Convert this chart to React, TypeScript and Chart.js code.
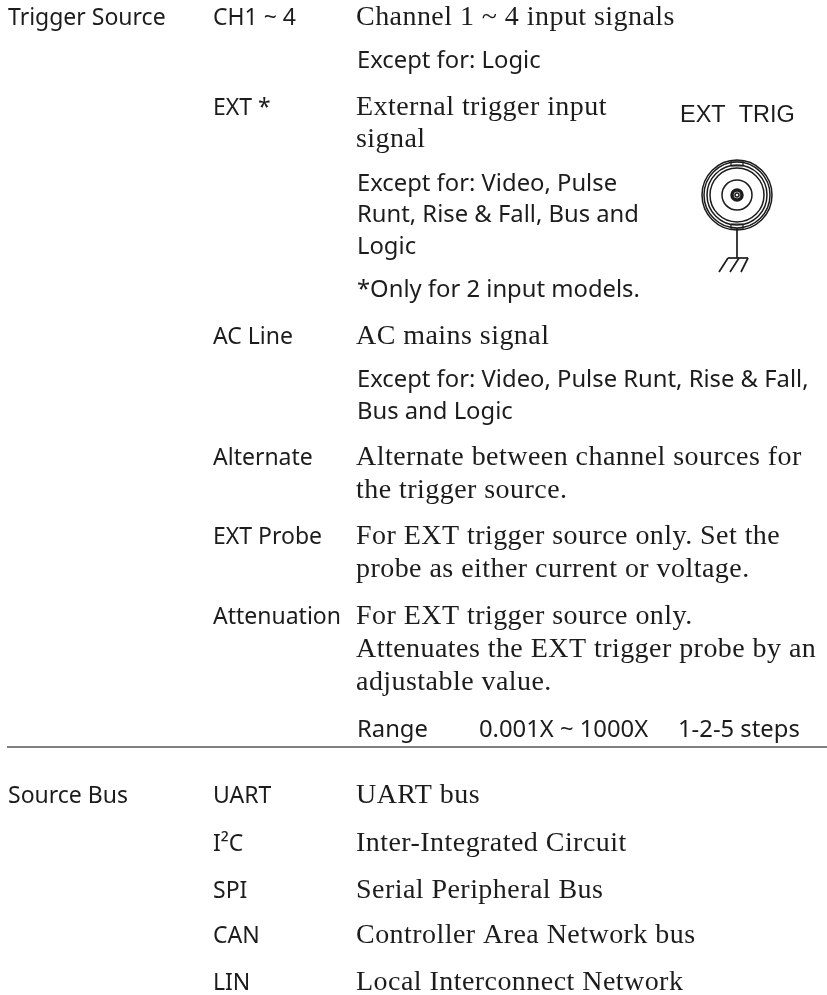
import React, { useEffect, useRef } from "react";
import { Chart, registerables } from "chart.js";

Chart.register(...registerables);

const PAGE_W = 827;
const PAGE_H = 995;

// [text, x on page scale, baseline on page scale]
const headings: [string, number, number][] = [
  ["Trigger Source", 8, 25],
  ["Source Bus", 8, 803],
];
const names: [string, number, number][] = [
  ["CH1 ~ 4", 213, 25],
  ["EXT *", 213, 115],
  ["AC Line", 213, 344],
  ["Alternate", 213, 465],
  ["EXT Probe", 213, 544],
  ["Attenuation", 213, 624],
  ["UART", 213, 803],
  ["I²C", 213, 851],
  ["SPI", 213, 898],
  ["CAN", 213, 943],
  ["LIN", 213, 990],
];
const notes: [string, number, number][] = [
  ["Except for: Logic", 357, 68],
  ["Except for: Video, Pulse", 357, 191],
  ["Runt, Rise & Fall, Bus and", 357, 222],
  ["Logic", 357, 254],
  ["*Only for 2 input models.", 357, 297],
  ["Except for: Video, Pulse Runt, Rise & Fall,", 357, 387],
  ["Bus and Logic", 357, 419],
  ["Range", 357, 737],
  ["0.001X ~ 1000X", 479, 737],
  ["1-2-5 steps", 678, 737],
];
const descriptions: [string, number, number][] = [
  ["Channel 1 ~ 4 input signals", 356, 25],
  ["External trigger input", 356, 115],
  ["signal", 356, 147],
  ["AC mains signal", 356, 344],
  ["Alternate between channel sources for", 356, 465],
  ["the trigger source.", 356, 498],
  ["For EXT trigger source only. Set the", 356, 544],
  ["probe as either current or voltage.", 356, 577],
  ["For EXT trigger source only.", 356, 624],
  ["Attenuates the EXT trigger probe by an", 356, 657],
  ["adjustable value.", 356, 690],
  ["UART bus", 356, 803],
  ["Inter-Integrated Circuit", 356, 851],
  ["Serial Peripheral Bus", 356, 898],
  ["Controller Area Network bus", 356, 943],
  ["Local Interconnect Network", 356, 990],
];
const figureCaption: [string, number, number][] = [["EXT  TRIG", 680, 122]];

const ruleLine = [{ x: 7, y: 747 }, { x: 827, y: 747 }];
const connectorCentre = { x: 737, y: 195 };
const ringRadii = [35, 33, 30, 27, 15, 2];
const coreRadius = 5;
const stem = [{ x: 737, y: 228 }, { x: 737, y: 258 }];
const groundBar = [{ x: 728, y: 258 }, { x: 748, y: 258 }];
const hatches = [
  [{ x: 728, y: 258 }, { x: 719, y: 272 }],
  [{ x: 739, y: 258 }, { x: 730, y: 272 }],
  [{ x: 748, y: 258 }, { x: 741, y: 272 }],
];
const tabs = [
  [{ x: 731, y: 161 }, { x: 743, y: 161 }, { x: 743, y: 166 }, { x: 731, y: 166 }, { x: 731, y: 161 }],
  [{ x: 731, y: 224 }, { x: 743, y: 224 }, { x: 743, y: 229 }, { x: 731, y: 229 }, { x: 731, y: 224 }],
];

const INK = "#1c1c1c";
const LABEL = { font: '23px "Noto Sans"', spacing: "0px" };
const NOTE = { font: '23.8px "Noto Sans"', spacing: "0px" };
const SERIF = { font: '28px "Liberation Serif"', spacing: "0.45px" };
const CAPTION = { font: '23.5px "Liberation Sans"', spacing: "0px" };

const toPoints = (rows: [string, number, number][]) => rows.map(([, x, y]) => ({ x, y }));
const textLayer = (rows: [string, number, number][], style: { font: string; spacing: string }) => ({
  label: "text",
  type: "scatter" as const,
  data: toPoints(rows),
  pointRadius: 0,
  showLine: false,
  texts: rows.map((r) => r[0]),
  textStyle: style,
});
const stroke = (data: { x: number; y: number }[], width = 1.7, color = INK) => ({
  label: "line",
  type: "line" as const,
  data,
  borderColor: color,
  borderWidth: width,
  pointRadius: 0,
  fill: false,
  tension: 0,
  clip: false,
});
const ring = (radius: number, width = 1.5) => ({
  label: "ring",
  type: "scatter" as const,
  data: [connectorCentre],
  pointRadius: radius,
  pointBorderWidth: width,
  pointBorderColor: INK,
  pointBackgroundColor: "rgba(0,0,0,0)",
  clip: false,
});

const pageText = {
  id: "pageText",
  afterDatasetsDraw(chart: any) {
    const { ctx, scales } = chart;
    ctx.save();
    ctx.fillStyle = INK;
    ctx.textBaseline = "alphabetic";
    ctx.textAlign = "left";
    chart.data.datasets.forEach((ds: any) => {
      if (!ds.texts) return;
      ctx.font = ds.textStyle.font;
      ctx.letterSpacing = ds.textStyle.spacing;
      ds.data.forEach((p: { x: number; y: number }, i: number) => {
        ctx.fillText(ds.texts[i], scales.x.getPixelForValue(p.x), scales.y.getPixelForValue(p.y));
      });
    });
    ctx.restore();
  },
};

export default function App() {
  const ref = useRef<HTMLCanvasElement>(null);
  useEffect(() => {
    const chart = new Chart(ref.current!, {
      type: "scatter",
      data: {
        datasets: [
          textLayer(headings, LABEL),
          textLayer(names, LABEL),
          textLayer(notes, NOTE),
          textLayer(descriptions, SERIF),
          textLayer(figureCaption, CAPTION),
          stroke(ruleLine, 2, "#808080"),
          ...ringRadii.map((r) => ring(r)),
          ring(coreRadius, 3.5),
          stroke(stem),
          stroke(groundBar),
          ...hatches.map((h) => stroke(h)),
          ...tabs.map((t) => stroke(t, 1.2)),
        ] as any,
      },
      options: {
        animation: false,
        responsive: false,
        layout: { padding: 0, autoPadding: false },
        plugins: { legend: { display: false }, tooltip: { enabled: false }, title: { display: false } },
        scales: {
          x: { type: "linear", display: false, min: 0, max: PAGE_W },
          y: { type: "linear", display: false, min: 0, max: PAGE_H, reverse: true },
        },
      },
      plugins: [pageText],
    });
    return () => chart.destroy();
  }, []);
  return (
    <div style={{ position: "absolute", left: 0, top: 0, width: PAGE_W, height: PAGE_H, background: "#fff" }}>
      <canvas ref={ref} width={PAGE_W} height={PAGE_H} style={{ display: "block" }} />
    </div>
  );
}
